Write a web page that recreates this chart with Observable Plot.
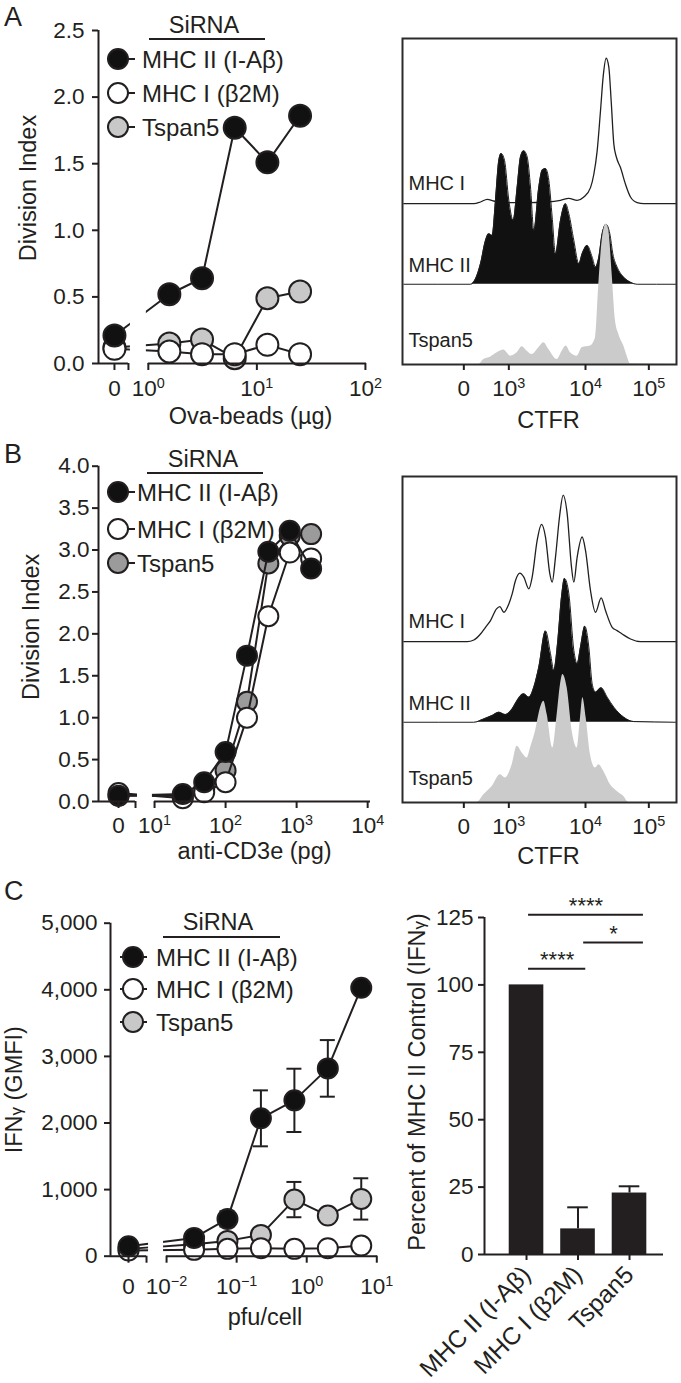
<!DOCTYPE html>
<html><head><meta charset="utf-8">
<script src="https://cdn.jsdelivr.net/npm/d3@7"></script>
<script src="https://cdn.jsdelivr.net/npm/@observablehq/plot@0.6"></script>
<style>
html,body{margin:0;padding:0;background:#fff;}
#fig{position:relative;width:681px;height:1383px;overflow:hidden;font-family:"Liberation Sans",Arial,Helvetica,sans-serif;color:#231f20;background:#fff;}
#fig svg{position:absolute;overflow:visible;}
.letter{position:absolute;font-size:27px;line-height:1;}
</style></head><body><div id="fig"></div>
<script>
// ---------------- data ----------------
const seriesNames = ["MHC II (I-Aβ)", "MHC I (β2M)", "Tspan5"];
// Panel A: Ova-beads (µg) vs Division Index
const ovaDose = [0, 1.5625, 3.125, 6.25, 12.5, 25];
const ovaMHCII = [0.21, 0.52, 0.64, 1.77, 1.51, 1.86];
const ovaMHCI = [0.11, 0.09, 0.07, 0.07, 0.14, 0.07];
const ovaTspan5 = [0.12, 0.15, 0.18, 0.04, 0.49, 0.54];
// Panel B: anti-CD3e (pg) vs Division Index
const cd3Dose = [0, 25, 50, 100, 200, 400, 800, 1600];
const cd3MHCII = [0.07, 0.09, 0.23, 0.59, 1.74, 2.98, 3.23, 2.78];
const cd3MHCI = [0.10, 0.04, 0.11, 0.23, 1.00, 2.21, 2.97, 2.90];
const cd3Tspan5 = [0.07, 0.07, 0.15, 0.37, 1.19, 2.84, 3.17, 3.19];
// Panel C: pfu/cell vs IFNγ (GMFI)
const pfuDose = [0, 0.0247, 0.074, 0.222, 0.667, 2, 6];
const ifnMHCII = [150, 275, 560, 2070, 2340, 2820, 4030];
const ifnMHCIIErr = [0, 0, 115, 420, 475, 425, 0];
const ifnMHCI = [85, 95, 110, 120, 110, 120, 160];
const ifnTspan5 = [110, 180, 230, 320, 850, 610, 860];
const ifnTspan5Err = [0, 0, 0, 0, 265, 0, 310];
// Panel C right: percent of MHC II control
const pctCats = ["MHC II (I-Aβ)", "MHC I (β2M)", "Tspan5"];
const pctMean = [100, 9.5, 22.8];
const pctErr = [0, 8, 2.5];
const sigFrom = [0.04, 1.11, 0.04];
const sigTo = [1.15, 2.27, 2.27];
const sigY = [106, 115.7, 126];
const sigLabel = ["****", "*", "****"];
// CTFR histograms: [channel, relative count]
const histNames = ["MHC I", "MHC II", "Tspan5"];
const ctfrTicks = [184, 319, 549, 739];
const ctfrLabels = ["0", "10^3", "10^4", "10^5"];
const histA_MHCI = [[4,0],[214,0],[234,5],[254,13],[274,8],[294,3],[324,3],[374,3],[434,5],[474,10],[499,16],[524,10],[544,20],[564,48],[574,88],[584,158],[594,278],[602,380],[611,435],[619,408],[626,308],[634,178],[642,138],[654,108],[669,58],[684,20],[704,3],[724,0],[819,0]];
const histA_MHCII = [[4,0],[204,0],[219,16],[234,61],[249,131],[259,151],[269,146],[279,251],[289,371],[296,391],[306,371],[319,251],[332,191],[344,291],[354,381],[364,399],[374,381],[384,291],[394,161],[409,291],[419,341],[429,346],[439,311],[449,201],[459,91],[474,191],[489,241],[499,211],[514,131],[529,61],[539,91],[554,116],[569,81],[579,51],[589,81],[599,151],[611,179],[622,151],[631,91],[644,51],[664,21],[684,6],[704,0],[819,0]];
const histA_Tspan5 = [[4,0],[229,0],[244,15],[264,22],[284,35],[304,43],[324,25],[344,35],[359,53],[374,40],[389,30],[409,50],[424,65],[439,45],[464,15],[479,40],[491,55],[504,35],[524,25],[539,50],[564,55],[579,80],[589,240],[599,370],[611,420],[619,400],[629,270],[639,130],[649,90],[664,55],[674,25],[684,2],[819,0]];
const histB_MHCI = [[4,0],[194,0],[214,5],[234,23],[249,43],[264,63],[282,98],[292,105],[304,88],[319,113],[329,143],[339,183],[352,205],[364,193],[379,158],[389,193],[404,303],[417,351],[429,313],[442,203],[449,178],[459,253],[471,373],[482,438],[494,383],[507,223],[514,178],[524,253],[539,313],[549,273],[564,153],[579,88],[596,131],[609,93],[629,43],[644,33],[659,23],[684,8],[714,0],[819,0]];
const histB_MHCII = [[4,0],[214,0],[244,10],[269,20],[289,30],[309,23],[329,40],[344,65],[364,85],[379,75],[394,105],[409,165],[429,273],[444,205],[454,155],[466,245],[477,375],[486,430],[499,385],[514,215],[524,175],[534,225],[547,287],[559,225],[569,115],[579,90],[596,103],[614,75],[634,45],[664,15],[694,2],[819,0]];
const histB_Tspan5 = [[4,0],[224,0],[244,23],[269,48],[294,83],[309,73],[329,113],[344,168],[359,148],[374,133],[384,163],[399,213],[414,283],[424,303],[434,263],[451,163],[464,263],[474,353],[481,383],[494,343],[509,213],[524,163],[534,253],[541,313],[551,253],[564,143],[579,103],[589,113],[604,93],[624,53],[644,33],[664,18],[679,0],[819,0]];
const histOffsets = [481, 240, 0];

// ---------------- styling ----------------
const INK = "#231f20";
const FONT = '"Liberation Sans", Arial, Helvetica, sans-serif';
const FS = 23.5;      // titles
const FS_TICK = 22.5; // tick labels
const FS_LEG = 24;    // legend
const fig = document.getElementById("fig");
const baseStyle = {fontFamily: FONT, fontSize: FS + "px", color: INK, background: "none", overflow: "visible"};

function place(svg, left, top) {
  svg.style.left = left + "px"; svg.style.top = top + "px";
  fig.appendChild(svg);
  superscripts(svg);
  smallGamma(svg);
  return svg;
}
function superscripts(svg) {
  svg.querySelectorAll("text").forEach(t => {
    const m = /^10\^(.+)$/.exec(t.textContent);
    if (!m) return;
    t.textContent = "10";
    const s = document.createElementNS("http://www.w3.org/2000/svg", "tspan");
    s.setAttribute("font-size", "0.64em");
    s.setAttribute("dy", "-0.58em");
    s.textContent = m[1];
    t.appendChild(s);
  });
}
function smallGamma(svg) {
  svg.querySelectorAll("text").forEach(t => {
    if (t.children.length || !t.textContent.includes("IFNγ")) return;
    const [a, b] = t.textContent.split("γ");
    t.textContent = a;
    const g = document.createElementNS("http://www.w3.org/2000/svg", "tspan");
    g.setAttribute("font-size", "0.72em");
    g.textContent = "γ";
    t.appendChild(g);
    const r = document.createElementNS("http://www.w3.org/2000/svg", "tspan");
    r.textContent = b;
    t.appendChild(r);
  });
}
function letter(ch, x, y) {
  const d = document.createElement("div");
  d.className = "letter"; d.textContent = ch;
  d.style.left = x + "px"; d.style.top = y + "px";
  fig.appendChild(d);
}
function addLegend(svg, L, fills) {
  const g = d3.select(svg).append("g").attr("font-family", FONT).attr("font-size", FS_LEG).attr("fill", INK);
  g.append("text").attr("x", L.headX).attr("y", L.headY).attr("text-anchor", "middle").attr("font-size", FS).text("SiRNA");
  g.append("line").attr("x1", L.ruleX1).attr("x2", L.ruleX2).attr("y1", L.ruleY).attr("y2", L.ruleY).attr("stroke", INK).attr("stroke-width", 2);
  seriesNames.forEach((name, i) => {
    const y = L.rows[i];
    g.append("line").attr("x1", L.lineX1).attr("x2", L.lineX2).attr("y1", y).attr("y2", y).attr("stroke", INK).attr("stroke-width", 2);
    g.append("circle").attr("cx", L.cx).attr("cy", y).attr("r", L.r).attr("fill", fills[i]).attr("stroke", INK).attr("stroke-width", 2);
    g.append("text").attr("x", L.textX).attr("y", y).attr("dy", "0.36em").attr("text-anchor", "start").text(name);
  });
}

function dosePanel(c) {
  const tx = v => v === 0 ? c.zeroPos : Math.log10(v);
  const sers = c.series;
  const marks = [];
  // draw order: Tspan5, MHC I, MHC II
  [2, 1, 0].forEach(k => {
    const s = sers[k];
    const data = c.dose.map((d, i) => ({x: tx(d), y: s.values[i], err: s.err ? s.err[i] : 0}));
    marks.push(Plot.line(data, {x: "x", y: "y", stroke: INK, strokeWidth: 2}));
    const e = data.filter(d => d.err > 0);
    if (e.length) {
      marks.push(Plot.ruleX(e, {x: "x", y1: d => d.y - d.err, y2: d => d.y + d.err, stroke: INK, strokeWidth: 2}));
      marks.push(Plot.ruleY(e, {y: d => d.y + d.err, x1: d => d.x - c.cap, x2: d => d.x + c.cap, stroke: INK, strokeWidth: 2}));
      marks.push(Plot.ruleY(e, {y: d => d.y - d.err, x1: d => d.x - c.cap, x2: d => d.x + c.cap, stroke: INK, strokeWidth: 2}));
    }
    marks.push(Plot.dot(data, {x: "x", y: "y", r: c.r, fill: s.fill, stroke: INK, strokeWidth: 2}));
  });
  // axis break gap
  marks.push(Plot.rect([c.gap], {x1: d => d[0], x2: d => d[1], y1: () => c.yDomain[0], y2: () => c.gapTop, fill: "white"}));
  // axes
  marks.push(Plot.ruleY(c.axisSegs, {x1: d => d[0], x2: d => d[1], y: () => c.yDomain[0], stroke: INK, strokeWidth: 2}));
  marks.push(Plot.ruleX([c.xDomain[0]], {x: d => d, y1: () => c.yDomain[0], y2: () => c.yDomain[1], stroke: INK, strokeWidth: 2}));
  marks.push(Plot.axisY({ticks: c.yTicks, tickFormat: c.yFmt, tickSize: 6, tickPadding: c.yPad, stroke: INK, strokeWidth: 2, label: null, fontSize: FS_TICK}));
  marks.push(Plot.axisX({ticks: [c.zeroPos, ...c.decades], tickFormat: d => d === c.zeroPos ? "0" : "10^" + (d < 0 ? "−" + (-d) : d), tickSize: 7, tickPadding: c.xPad, stroke: INK, strokeWidth: 2, label: null, fontSize: FS_TICK}));
  marks.push(Plot.axisX({ticks: [c.breakTick], tickFormat: () => "", tickSize: 7, stroke: INK, strokeWidth: 2, label: null}));
  marks.push(Plot.text([c.yTitle], {text: d => d, frameAnchor: "left", textAnchor: "middle", rotate: -90, dx: c.yTitleDx, dy: c.yTitleDy, fill: INK}));
  marks.push(Plot.text([c.xTitle], {text: d => d, frameAnchor: "bottom", textAnchor: "middle", lineAnchor: "bottom", dx: c.xTitleDx, dy: c.xTitleDy, fill: INK}));
  const svg = Plot.plot({
    width: c.width, height: c.height,
    marginLeft: c.m[0], marginRight: c.m[1], marginTop: c.m[2], marginBottom: c.m[3],
    x: {type: "linear", domain: c.xDomain},
    y: {type: "linear", domain: c.yDomain},
    style: baseStyle,
    marks
  });
  place(svg, c.left, c.top);
  addLegend(svg, c.legend, sers.map(s => s.fill));
}

function histPanel(c) {
  const fills = ["white", "#111111", "#cbcbcb"];
  const lift = [40, 38, 52];
  const marks = [];
  c.traces.forEach((t, k) => {
    const off = histOffsets[k];
    marks.push(Plot.area(t, {x1: d => d[0], y1: () => off, y2: d => off + d[1], fill: fills[k], curve: "monotone-x"}));
    if (k < 2) marks.push(Plot.line(t, {x: d => d[0], y: d => off + d[1], stroke: INK, strokeWidth: k === 0 ? 1.3 : 1, curve: "monotone-x"}));
  });
  marks.push(Plot.text(histNames.map((n, k) => ({n, y: histOffsets[k] + lift[k]})), {y: "y", text: "n", frameAnchor: "left", dx: 6, textAnchor: "start", lineAnchor: "bottom", fontSize: 20, fill: INK}));
  marks.push(Plot.frame({stroke: "#2b2b2b", strokeWidth: 2}));
  marks.push(Plot.axisX({ticks: ctfrTicks, tickFormat: d => ctfrLabels[ctfrTicks.indexOf(d)], tickSize: 6, tickPadding: 10, stroke: INK, strokeWidth: 2, label: null, fontSize: FS_TICK}));
  marks.push(Plot.text(["CTFR"], {text: d => d, frameAnchor: "bottom", textAnchor: "middle", lineAnchor: "bottom", dx: 9, dy: c.titleDy, fill: INK}));
  const svg = Plot.plot({
    width: 301, height: c.height,
    marginLeft: 22, marginRight: 5, marginTop: c.mt, marginBottom: c.mb,
    x: {type: "linear", domain: [0, 822]},
    y: {type: "linear", domain: [0, 975], axis: null},
    style: baseStyle,
    marks
  });
  place(svg, 380, c.top);
}

// ---------------- Panel A ----------------
dosePanel({
  left: 0, top: 0, width: 380, height: 440, m: [98, 14, 30, 77],
  dose: ovaDose,
  series: [{values: ovaMHCII, fill: "#111"}, {values: ovaMHCI, fill: "white"}, {values: ovaTspan5, fill: "#c8c8c8"}],
  xDomain: [-0.459, 2.01], zeroPos: -0.312, breakTick: -0.183, axisSegs: [[-0.459, -0.183], [0, 2.01]],
  gap: [-0.165, -0.018], gapTop: 0.45, decades: [0, 1, 2],
  yDomain: [0, 2.5], yTicks: [0, 0.5, 1, 1.5, 2, 2.5], yFmt: d3.format(".1f"), yPad: 8, xPad: 10,
  r: 11, cap: 0.05,
  yTitle: "Division Index", yTitleDx: -70, yTitleDy: -9,
  xTitle: "Ova-beads (µg)", xTitleDx: 18, xTitleDy: 60,
  legend: {headX: 204, headY: 33, ruleX1: 149, ruleX2: 265, ruleY: 39, rows: [59, 93, 127], lineX1: 107, lineX2: 135, cx: 118, r: 10, textX: 142}
});
histPanel({top: 0, height: 440, mt: 38, mb: 76, titleDy: 63, traces: [histA_MHCI, histA_MHCII, histA_Tspan5]});

// ---------------- Panel B ----------------
dosePanel({
  left: 0, top: 440, width: 380, height: 440, m: [98, 10, 25.7, 79],
  dose: cd3Dose,
  series: [{values: cd3MHCII, fill: "#111"}, {values: cd3MHCI, fill: "white"}, {values: cd3Tspan5, fill: "#9b9b9b"}],
  xDomain: [0.211, 4.04], zeroPos: 0.493, breakTick: 0.732, axisSegs: [[0.211, 0.732], [1, 4.04]],
  gap: [0.76, 0.97], gapTop: 0.3, decades: [1, 2, 3, 4],
  yDomain: [0, 4], yTicks: [0, 0.5, 1, 1.5, 2, 2.5, 3, 3.5, 4], yFmt: d3.format(".1f"), yPad: 3, xPad: 9,
  r: 10, cap: 0.05,
  yTitle: "Division Index", yTitleDx: -67, yTitleDy: -7,
  xTitle: "anti-CD3e (pg)", xTitleDx: 20, xTitleDy: 57,
  legend: {headX: 203, headY: 27, ruleX1: 147, ruleX2: 263, ruleY: 33, rows: [52, 89, 123], lineX1: 107, lineX2: 135, cx: 118, r: 10, textX: 137}
});
histPanel({top: 440, height: 440, mt: 36, mb: 78, titleDy: 61, traces: [histB_MHCI, histB_MHCII, histB_Tspan5]});

// ---------------- Panel C (left) ----------------
dosePanel({
  left: 0, top: 880, width: 380, height: 503, m: [110, 3, 42.7, 127.3],
  dose: pfuDose,
  series: [{values: ifnMHCII, err: ifnMHCIIErr, fill: "#111"}, {values: ifnMHCI, fill: "white"}, {values: ifnTspan5, err: ifnTspan5Err, fill: "#c8c8c8"}],
  xDomain: [-2.8, 1.01], zeroPos: -2.543, breakTick: -2.286, axisSegs: [[-2.8, -2.286], [-2, 1.01]],
  gap: [-2.257, -2.043], gapTop: 600, decades: [-2, -1, 0, 1],
  yDomain: [0, 5000], yTicks: [0, 1000, 2000, 3000, 4000, 5000], yFmt: d3.format(","), yPad: 7, xPad: 15,
  r: 10, cap: 0.107,
  yTitle: "IFNγ (GMFI)", yTitleDx: -96, yTitleDy: 0,
  xTitle: "pfu/cell", xTitleDx: 21, xTitleDy: 69,
  legend: {headX: 218, headY: 50, ruleX1: 163, ruleX2: 280, ruleY: 57, rows: [77, 109, 142], lineX1: 120, lineX2: 147, cx: 133, r: 10, textX: 156}
});

// ---------------- Panel C (right) ----------------
(function () {
  const rows = pctCats.map((cat, i) => ({i, cat, mean: pctMean[i], err: pctErr[i]}));
  const sig = sigLabel.map((label, k) => ({label, from: sigFrom[k], to: sigTo[k], y: sigY[k]}));
  const e = rows.filter(d => d.err > 0);
  const svg = Plot.plot({
    width: 301, height: 503, marginLeft: 104, marginRight: 18, marginTop: 37, marginBottom: 129,
    x: {type: "linear", domain: [-0.816, 2.66]},
    y: {type: "linear", domain: [0, 125]},
    style: baseStyle,
    marks: [
      Plot.ruleX(e, {x: "i", y1: "mean", y2: d => d.mean + d.err, stroke: INK, strokeWidth: 2}),
      Plot.ruleY(e, {y: d => d.mean + d.err, x1: d => d.i - 0.2, x2: d => d.i + 0.2, stroke: INK, strokeWidth: 2}),
      Plot.rectY(rows, {x1: d => d.i - 0.336, x2: d => d.i + 0.336, y: "mean", fill: INK}),
      Plot.ruleY([0], {stroke: INK, strokeWidth: 2}),
      Plot.ruleX([-0.816], {x: d => d, y1: () => 0, y2: () => 125, stroke: INK, strokeWidth: 2}),
      Plot.axisY({ticks: [0, 25, 50, 75, 100, 125], tickFormat: d3.format("d"), tickSize: 6, tickPadding: 5, stroke: INK, strokeWidth: 2, label: null, fontSize: FS_TICK}),
      Plot.axisX({ticks: [0, 1, 2], tickFormat: i => pctCats[i], tickRotate: -45, tickSize: 6, tickPadding: 10, stroke: INK, strokeWidth: 2, label: null, fontSize: 24.5}),
      Plot.ruleY(sig, {x1: "from", x2: "to", y: "y", stroke: INK, strokeWidth: 2}),
      Plot.text(sig, {x: d => (d.from + d.to) / 2, y: "y", text: "label", textAnchor: "middle", lineAnchor: "bottom", dy: -2, fontSize: 22, fill: INK}),
      Plot.text(["Percent of MHC II Control (IFNγ)"], {text: d => d, frameAnchor: "left", textAnchor: "middle", rotate: -90, dx: -67, dy: -4, fill: INK})
    ]
  });
  place(svg, 380, 880);
})();

letter("A", 4, 4);
letter("B", 4, 441);
letter("C", 4, 878);
</script></body></html>
